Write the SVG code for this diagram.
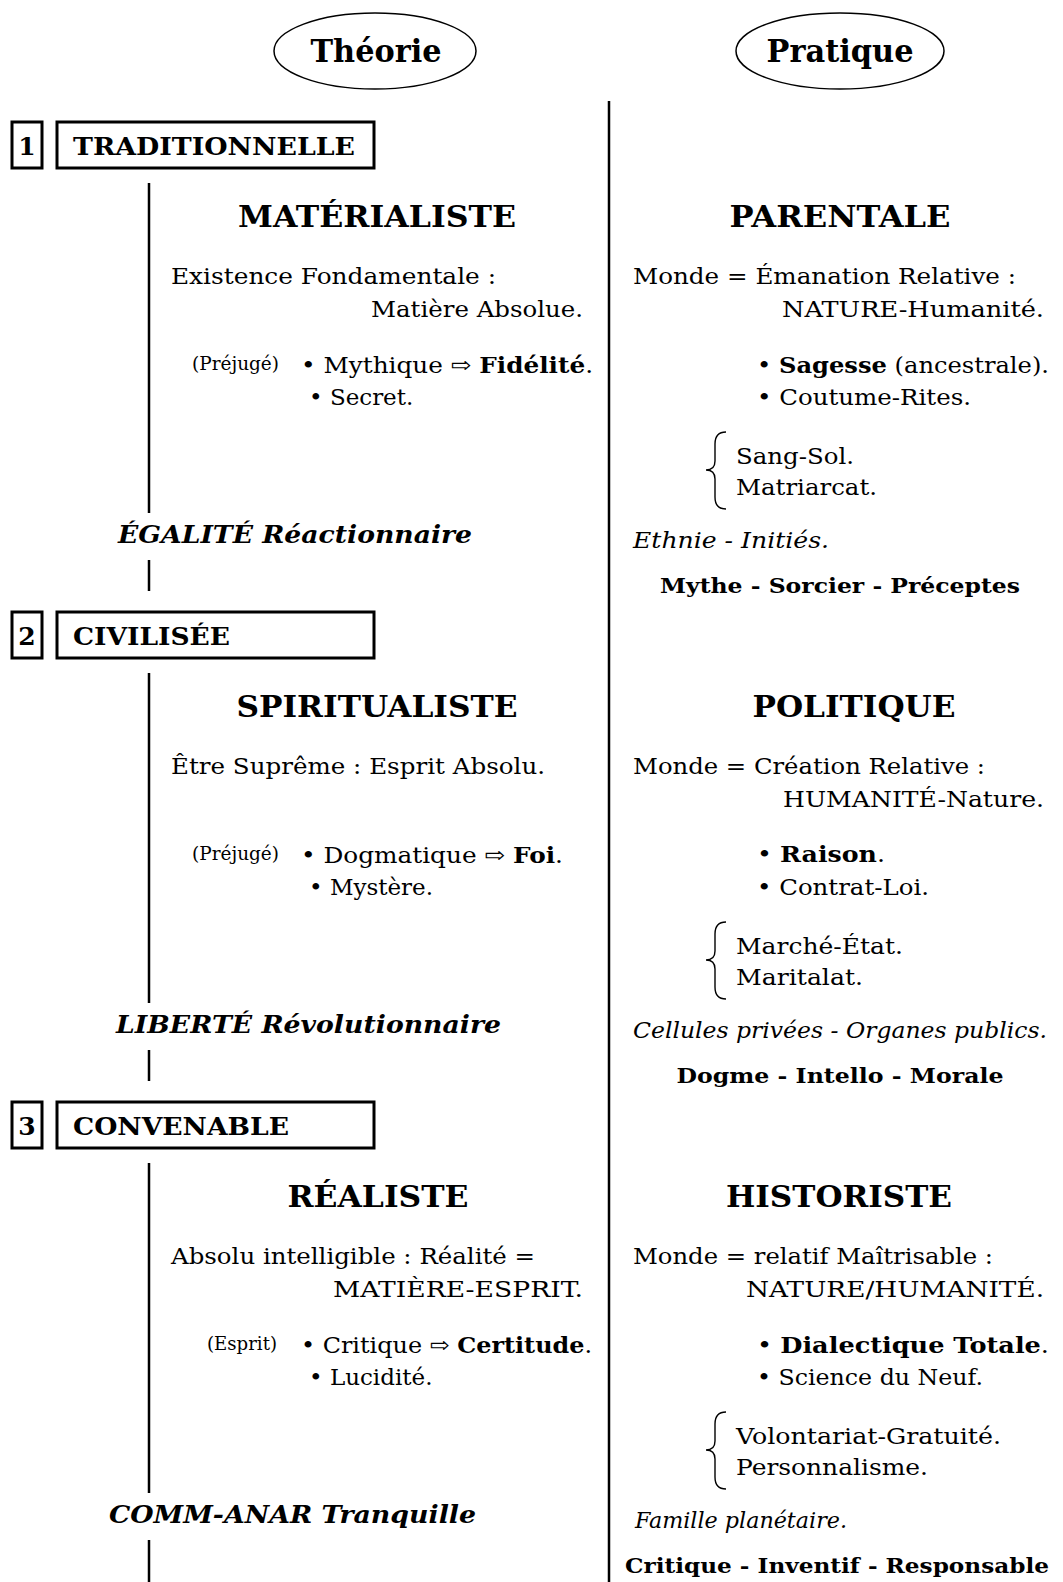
<svg xmlns="http://www.w3.org/2000/svg" width="1063" height="1582" viewBox="0 0 1063 1582">
<style>
text{font-family:"DejaVu Serif","Liberation Serif",serif;fill:#000}
.t{font-size:31px;font-weight:bold}
.h{font-size:29px;font-weight:bold}
.bx{font-size:25px;font-weight:bold}
.r{font-size:23px}
.s{font-size:19px}
.bi{font-size:24px;font-weight:bold;font-style:italic}
.i{font-size:22px;font-style:italic}
.f{font-size:21px;font-weight:bold}
.b{font-weight:bold}
.box{fill:#fff;stroke:#000;stroke-width:3}
.ln{stroke:#000;stroke-width:2.5;fill:none}
.br{stroke:#000;stroke-width:1.4;fill:none}
</style>
<rect width="1063" height="1582" fill="#fff"/>

<g id="connectors">
<line class="ln" x1="609" y1="101" x2="609" y2="1582"/>
<line class="ln" x1="149" y1="183" x2="149" y2="513"/>
<line class="ln" x1="149" y1="560" x2="149" y2="591"/>
<line class="ln" x1="149" y1="673" x2="149" y2="1003"/>
<line class="ln" x1="149" y1="1050" x2="149" y2="1081"/>
<line class="ln" x1="149" y1="1163" x2="149" y2="1493"/>
<line class="ln" x1="149" y1="1540" x2="149" y2="1582"/>
</g>

<g id="theorie">
<ellipse cx="375" cy="51" rx="101" ry="38" fill="#fff" stroke="#000" stroke-width="1.5"/>
<text class="t" x="376" y="62" text-anchor="middle" textLength="131" lengthAdjust="spacingAndGlyphs">Théorie</text>
</g>
<g id="pratique">
<ellipse cx="840" cy="51" rx="104" ry="38" fill="#fff" stroke="#000" stroke-width="1.5"/>
<text class="t" x="840" y="62" text-anchor="middle" textLength="147" lengthAdjust="spacingAndGlyphs">Pratique</text>
</g>

<!-- Section 1 -->
<g id="s1-num">
<rect class="box" x="12" y="122" width="30" height="46"/>
<text class="bx" x="27" y="155" text-anchor="middle">1</text>
</g>
<g id="s1-label">
<rect class="box" x="57" y="122" width="317" height="46"/>
<text class="bx" x="73" y="155" textLength="282" lengthAdjust="spacingAndGlyphs">TRADITIONNELLE</text>
</g>
<g id="s1-theorie">
<text class="h" x="377" y="227" text-anchor="middle" textLength="278" lengthAdjust="spacingAndGlyphs">MATÉRIALISTE</text>
<text class="r" x="171" y="284" textLength="325" lengthAdjust="spacingAndGlyphs">Existence Fondamentale :</text>
<text class="r" x="583" y="317" text-anchor="end" textLength="212" lengthAdjust="spacingAndGlyphs">Matière Absolue.</text>
<text class="s" x="192" y="370" textLength="87" lengthAdjust="spacingAndGlyphs">(Préjugé)</text>
<text class="r" x="301" y="373" textLength="292" lengthAdjust="spacingAndGlyphs">• Mythique ⇨ <tspan class="b">Fidélité</tspan>.</text>
<text class="r" x="309" y="405">• Secret.</text>
<text class="bi" x="118" y="543" textLength="354" lengthAdjust="spacingAndGlyphs">ÉGALITÉ Réactionnaire</text>
</g>
<g id="s1-pratique">
<text class="h" x="840" y="227" text-anchor="middle" textLength="221" lengthAdjust="spacingAndGlyphs">PARENTALE</text>
<text class="r" x="633" y="284" textLength="383" lengthAdjust="spacingAndGlyphs">Monde = Émanation Relative :</text>
<text class="r" x="1044" y="317" text-anchor="end" textLength="262" lengthAdjust="spacingAndGlyphs">NATURE-Humanité.</text>
<text class="r" x="757" y="373" textLength="292" lengthAdjust="spacingAndGlyphs">• <tspan class="b">Sagesse</tspan> (ancestrale).</text>
<text class="r" x="757" y="405" textLength="214" lengthAdjust="spacingAndGlyphs">• Coutume-Rites.</text>
<path class="br" d="M726,432 Q715,432 715,444 L715,461 Q715,470 706,470 Q715,470 715,479 L715,497 Q715,509 726,509"/>
<text class="r" x="736" y="464" textLength="118" lengthAdjust="spacingAndGlyphs">Sang-Sol.</text>
<text class="r" x="736" y="495" textLength="141" lengthAdjust="spacingAndGlyphs">Matriarcat.</text>
<text class="i" x="633" y="548" textLength="196" lengthAdjust="spacingAndGlyphs">Ethnie - Initiés.</text>
<text class="f" x="840" y="593" text-anchor="middle" textLength="360" lengthAdjust="spacingAndGlyphs">Mythe - Sorcier - Préceptes</text>
</g>

<!-- Section 2 -->
<g id="s2-num">
<rect class="box" x="12" y="612" width="30" height="46"/>
<text class="bx" x="27" y="645" text-anchor="middle">2</text>
</g>
<g id="s2-label">
<rect class="box" x="57" y="612" width="317" height="46"/>
<text class="bx" x="73" y="645" textLength="157" lengthAdjust="spacingAndGlyphs">CIVILISÉE</text>
</g>
<g id="s2-theorie">
<text class="h" x="377" y="717" text-anchor="middle" textLength="281" lengthAdjust="spacingAndGlyphs">SPIRITUALISTE</text>
<text class="r" x="171" y="774" textLength="374" lengthAdjust="spacingAndGlyphs">Être Suprême : Esprit Absolu.</text>
<text class="s" x="192" y="860" textLength="87" lengthAdjust="spacingAndGlyphs">(Préjugé)</text>
<text class="r" x="301" y="863" textLength="262" lengthAdjust="spacingAndGlyphs">• Dogmatique ⇨ <tspan class="b">Foi</tspan>.</text>
<text class="r" x="309" y="895">• Mystère.</text>
<text class="bi" x="116" y="1033" textLength="385" lengthAdjust="spacingAndGlyphs">LIBERTÉ Révolutionnaire</text>
</g>
<g id="s2-pratique">
<text class="h" x="854" y="717" text-anchor="middle" textLength="203" lengthAdjust="spacingAndGlyphs">POLITIQUE</text>
<text class="r" x="633" y="774" textLength="352" lengthAdjust="spacingAndGlyphs">Monde = Création Relative :</text>
<text class="r" x="1044" y="807" text-anchor="end" textLength="261" lengthAdjust="spacingAndGlyphs">HUMANITÉ-Nature.</text>
<text class="r" x="757" y="862" textLength="128" lengthAdjust="spacingAndGlyphs">• <tspan class="b">Raison</tspan>.</text>
<text class="r" x="757" y="895" textLength="172" lengthAdjust="spacingAndGlyphs">• Contrat-Loi.</text>
<path class="br" d="M726,922 Q715,922 715,934 L715,951 Q715,960 706,960 Q715,960 715,969 L715,987 Q715,999 726,999"/>
<text class="r" x="736" y="954" textLength="167" lengthAdjust="spacingAndGlyphs">Marché-État.</text>
<text class="r" x="736" y="985" textLength="127" lengthAdjust="spacingAndGlyphs">Maritalat.</text>
<text class="i" x="633" y="1038" textLength="414" lengthAdjust="spacingAndGlyphs">Cellules privées - Organes publics.</text>
<text class="f" x="840" y="1083" text-anchor="middle" textLength="327" lengthAdjust="spacingAndGlyphs">Dogme - Intello - Morale</text>
</g>

<!-- Section 3 -->
<g id="s3-num">
<rect class="box" x="12" y="1102" width="30" height="46"/>
<text class="bx" x="27" y="1135" text-anchor="middle">3</text>
</g>
<g id="s3-label">
<rect class="box" x="57" y="1102" width="317" height="46"/>
<text class="bx" x="73" y="1135" textLength="216" lengthAdjust="spacingAndGlyphs">CONVENABLE</text>
</g>
<g id="s3-theorie">
<text class="h" x="378" y="1207" text-anchor="middle" textLength="181" lengthAdjust="spacingAndGlyphs">RÉALISTE</text>
<text class="r" x="171" y="1264" textLength="364" lengthAdjust="spacingAndGlyphs">Absolu intelligible : Réalité =</text>
<text class="r" x="583" y="1297" text-anchor="end" textLength="250" lengthAdjust="spacingAndGlyphs">MATIÈRE-ESPRIT.</text>
<text class="s" x="207" y="1350" textLength="70" lengthAdjust="spacingAndGlyphs">(Esprit)</text>
<text class="r" x="301" y="1353" textLength="291" lengthAdjust="spacingAndGlyphs">• Critique ⇨ <tspan class="b">Certitude</tspan>.</text>
<text class="r" x="309" y="1385">• Lucidité.</text>
<text class="bi" x="109" y="1523" textLength="367" lengthAdjust="spacingAndGlyphs">COMM-ANAR Tranquille</text>
</g>
<g id="s3-pratique">
<text class="h" x="839" y="1207" text-anchor="middle" textLength="226" lengthAdjust="spacingAndGlyphs">HISTORISTE</text>
<text class="r" x="633" y="1264" textLength="360" lengthAdjust="spacingAndGlyphs">Monde = relatif Maîtrisable :</text>
<text class="r" x="1044" y="1297" text-anchor="end" textLength="298" lengthAdjust="spacingAndGlyphs">NATURE/HUMANITÉ.</text>
<text class="r" x="757" y="1353" textLength="292" lengthAdjust="spacingAndGlyphs">• <tspan class="b">Dialectique Totale</tspan>.</text>
<text class="r" x="757" y="1385" textLength="226" lengthAdjust="spacingAndGlyphs">• Science du Neuf.</text>
<path class="br" d="M726,1412 Q715,1412 715,1424 L715,1441 Q715,1450 706,1450 Q715,1450 715,1459 L715,1477 Q715,1489 726,1489"/>
<text class="r" x="736" y="1444" textLength="265" lengthAdjust="spacingAndGlyphs">Volontariat-Gratuité.</text>
<text class="r" x="736" y="1475" textLength="192" lengthAdjust="spacingAndGlyphs">Personnalisme.</text>
<text class="i" x="635" y="1528" textLength="212" lengthAdjust="spacingAndGlyphs">Famille planétaire.</text>
<text class="f" x="837" y="1573" text-anchor="middle" textLength="424" lengthAdjust="spacingAndGlyphs">Critique - Inventif - Responsable</text>
</g>
</svg>
